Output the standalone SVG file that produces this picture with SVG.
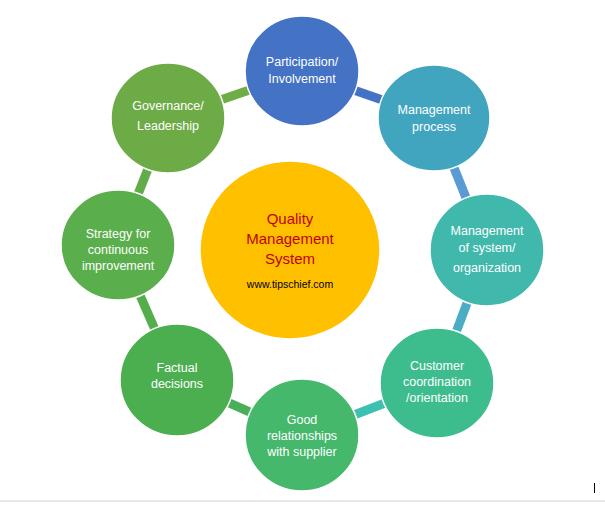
<svg xmlns="http://www.w3.org/2000/svg" width="605" height="506" viewBox="0 0 605 506">
<style>
.n{stroke:#fff;stroke-width:1.5}
.t{font-family:"Liberation Sans",Arial,sans-serif;font-size:12.5px;fill:#fff;text-anchor:middle}
.c{stroke-width:9;stroke-linecap:butt}
</style>
<rect width="605" height="506" fill="#fff"/>
<g id="connectors">
<line class="c" x1="302" y1="72" x2="434" y2="118" stroke="#4472C4"/>
<line class="c" x1="434" y1="118" x2="487" y2="250" stroke="#fff" stroke-width="12"/>
<line class="c" x1="434" y1="118" x2="487" y2="250" stroke="#5B9BD5"/>
<line class="c" x1="487" y1="250" x2="437" y2="383" stroke="#4BACC6"/>
<line class="c" x1="437" y1="383" x2="302" y2="435" stroke="#3CC0B0"/>
<line class="c" x1="302" y1="435" x2="177" y2="380" stroke="#48B058"/>
<line class="c" x1="177" y1="380" x2="118" y2="245" stroke="#55AE4C"/>
<line class="c" x1="118" y1="245" x2="168" y2="118" stroke="#62AC4A"/>
<line class="c" x1="168" y1="118" x2="302" y2="72" stroke="#70AD47"/>
</g>
<g id="center"><ellipse cx="290" cy="250" rx="90" ry="89" fill="#FFC000" class="n"/>
<text x="290" y="224" style="font-family:'Liberation Sans',Arial,sans-serif;font-size:15px;fill:#C00000;text-anchor:middle"><tspan x="290">Quality</tspan><tspan x="290" dy="20">Management</tspan><tspan x="290" dy="20">System</tspan></text>
<text x="290" y="288" style="font-family:'Liberation Sans',Arial,sans-serif;font-size:10.5px;fill:#000;text-anchor:middle">www.tipschief.com</text></g>
<g id="n1"><ellipse cx="302" cy="71" rx="57" ry="55" fill="#4472C4" class="n"/><text class="t" y="66"><tspan x="302">Participation/</tspan><tspan x="302" dy="17">Involvement</tspan></text></g>
<g id="n2"><ellipse cx="434" cy="118" rx="56" ry="53" fill="#42A5C0" class="n"/><text class="t" y="114"><tspan x="434">Management</tspan><tspan x="434" dy="17">process</tspan></text></g>
<g id="n3"><ellipse cx="487" cy="250" rx="57" ry="56" fill="#40B9AC" class="n"/><text class="t" y="235"><tspan x="487">Management</tspan><tspan x="487" dy="17">of system/</tspan><tspan x="487" dy="20">organization</tspan></text></g>
<g id="n4"><ellipse cx="437" cy="383" rx="57" ry="55" fill="#3DBD8E" class="n"/><text class="t" y="370"><tspan x="437">Customer</tspan><tspan x="437" dy="16">coordination</tspan><tspan x="437" dy="16">/orientation</tspan></text></g>
<g id="n5"><ellipse cx="302" cy="435" rx="57" ry="56" fill="#45B86B" class="n"/><text class="t" y="424"><tspan x="302">Good</tspan><tspan x="302" dy="16">relationships</tspan><tspan x="302" dy="16">with supplier</tspan></text></g>
<g id="n6"><ellipse cx="177" cy="380" rx="57" ry="56" fill="#4BAF4F" class="n"/><text class="t" y="372"><tspan x="177">Factual</tspan><tspan x="177" dy="16">decisions</tspan></text></g>
<g id="n7"><ellipse cx="118" cy="245" rx="57" ry="55" fill="#5AAE4B" class="n"/><text class="t" y="238"><tspan x="118">Strategy for</tspan><tspan x="118" dy="16">continuous</tspan><tspan x="118" dy="16">improvement</tspan></text></g>
<g id="n8"><ellipse cx="168" cy="118" rx="57" ry="55" fill="#6DAB47" class="n"/><text class="t" y="110"><tspan x="168">Governance/</tspan><tspan x="168" dy="20">Leadership</tspan></text></g>
<line x1="0" y1="501" x2="605" y2="501" stroke="#D0D0D0" stroke-width="1"/>
<line x1="594.5" y1="483" x2="594.5" y2="493" stroke="#000" stroke-width="1"/>
</svg>
